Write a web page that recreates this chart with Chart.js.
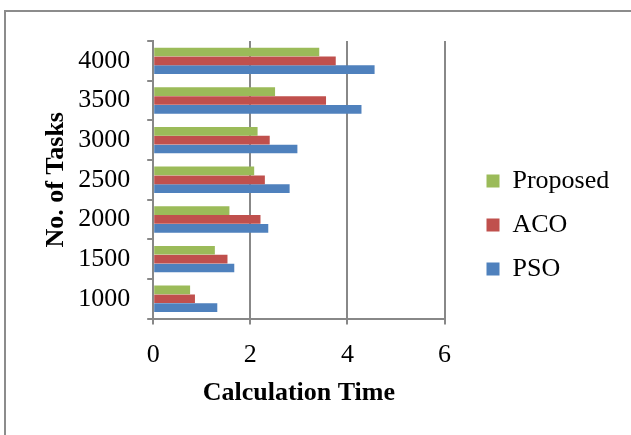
<!DOCTYPE html>
<html>
<head>
<meta charset="utf-8">
<script src="https://cdn.jsdelivr.net/npm/chart.js@4/dist/chart.umd.min.js"></script>
<style>
  html, body { margin: 0; padding: 0; background: #fff; }
  #wrap { position: relative; width: 631px; height: 435px; overflow: hidden; }
  #frame { position: absolute; left: 4px; top: 10px; width: 700px; height: 500px;
           border-left: 2px solid #8c8c8c; border-top: 2px solid #8c8c8c; }
  #c { position: absolute; left: 0; top: 0; }
</style>
</head>
<body>
<div id="wrap">
  <div id="frame"></div>
  <canvas id="c" width="631" height="435"></canvas>
</div>
<script>
const taskLabels = ['1000', '1500', '2000', '2500', '3000', '3500', '4000'];
const proposedTimes = [0.76, 1.27, 1.57, 2.08, 2.15, 2.51, 3.42];
const acoTimes = [0.86, 1.53, 2.21, 2.30, 2.40, 3.56, 3.76];
const psoTimes = [1.32, 1.67, 2.37, 2.81, 2.97, 4.29, 4.56];
const xTicks = [0, 2, 4, 6];

const font = 'Liberation Serif, Times New Roman, serif';
const axisGray = '#888888';

// push the legend away from the plot, as in the original layout
const legendGap = {
  id: 'legendGap',
  afterLayout(chart) {
    const lg = chart.legend;
    if (!lg) return;
    lg.left += 24;
    lg.right = chart.width;
    lg.width = lg.right - lg.left;
  },
};

const ctx = document.getElementById('c').getContext('2d');
new Chart(ctx, {
  type: 'bar',
  data: {
    labels: taskLabels,
    datasets: [
      { label: 'Proposed', data: proposedTimes, backgroundColor: '#9BBB59' },
      { label: 'ACO', data: acoTimes, backgroundColor: '#C0504D' },
      { label: 'PSO', data: psoTimes, backgroundColor: '#4F81BD' },
    ],
  },
  plugins: [legendGap],
  options: {
    indexAxis: 'y',
    responsive: false,
    animation: false,
    datasets: { bar: { categoryPercentage: 0.67, barPercentage: 0.98 } },
    layout: { padding: { top: 41, left: 41, right: 52, bottom: 26 } },
    plugins: {
      legend: {
        position: 'right',
        labels: { font: { family: font, size: 26 }, color: '#000', boxWidth: 13, boxHeight: 13, padding: 18 },
      },
      tooltip: { enabled: false },
    },
    scales: {
      x: {
        min: 0, max: 6,
        afterBuildTicks: s => { s.ticks = xTicks.map(v => ({ value: v })); },
        grid: { color: axisGray, lineWidth: 2, tickLength: 6 },
        border: { color: axisGray, width: 2 },
        ticks: { font: { family: font, size: 26 }, color: '#000', padding: 15 },
        title: { display: true, text: 'Calculation Time', font: { family: font, size: 26, weight: 'bold' }, color: '#000', padding: { top: -8, bottom: 0 } },
      },
      y: {
        reverse: true,
        grid: { offset: true, drawOnChartArea: false, color: axisGray, lineWidth: 2, tickLength: 6 },
        border: { color: axisGray, width: 2 },
        ticks: { font: { family: font, size: 26 }, color: '#000', padding: 17 },
        title: { display: true, text: 'No. of Tasks', font: { family: font, size: 26, weight: 'bold' }, color: '#000', padding: { top: 0, bottom: -11 } },
      },
    },
  },
});
</script>
</body>
</html>
